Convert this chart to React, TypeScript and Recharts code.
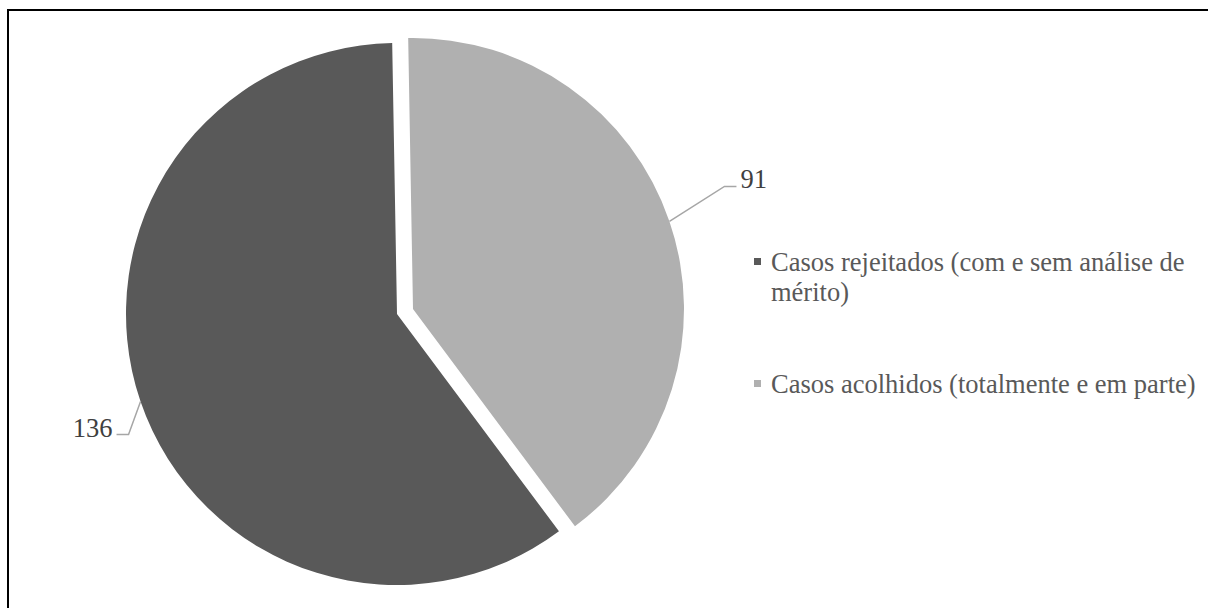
import React from 'react';
import { PieChart, Pie, Cell, Legend } from 'recharts';

const categories = [
  'Casos rejeitados (com e sem análise de mérito)',
  'Casos acolhidos (totalmente e em parte)',
];
const values = [136, 91];
const colors = ['#595959', '#b0b0b0'];

const data = categories.map((name, i) => ({ name, value: values[i] }));

const FONT = '"Liberation Serif", "Times New Roman", serif';
const RAD = Math.PI / 180;
const START = -53.3;
const END = START - 360;

const makeLabel = (visibleIndex: number) => (props: any) => {
  const { cx, cy, midAngle, outerRadius, index, value } = props;
  if (index !== visibleIndex) return null;
  const ex = cx + outerRadius * Math.cos(-midAngle * RAD);
  const ey = cy + outerRadius * Math.sin(-midAngle * RAD);
  const right = ex > cx;
  const mx = right ? ex + 55 : ex - 12;
  const my = right ? ey - 35 : ey + 33;
  const hx = right ? mx + 12 : mx - 12;
  return (
    <g key={`lbl-${index}`}>
      <polyline
        points={`${ex},${ey} ${mx},${my} ${hx},${my}`}
        fill="none"
        stroke="#a6a6a6"
        strokeWidth={1.5}
      />
      <text
        x={right ? hx + 4 : hx - 4}
        y={my + 2}
        textAnchor={right ? 'start' : 'end'}
        fontFamily={FONT}
        fontSize={26.5}
        fill="#404040"
      >
        {value}
      </text>
    </g>
  );
};

const renderLegend = () => (
  <div style={{ fontFamily: FONT, fontSize: 26.5, color: '#595959', width: 460 }}>
    {data.map((d, i) => (
      <div
        key={i}
        style={{
          position: 'relative',
          paddingLeft: 17,
          width: 440,
          lineHeight: '29.5px',
          marginBottom: i === 0 ? 63 : 0,
        }}
      >
        <span
          style={{
            position: 'absolute',
            left: 0,
            top: 10,
            width: 7,
            height: 7,
            background: colors[i],
          }}
        />
        {d.name}
      </div>
    ))}
  </div>
);

export default function App() {
  return (
    <div
      style={{
        position: 'absolute',
        left: 0,
        top: 0,
        width: 1208,
        height: 608,
        background: '#fff',
        overflow: 'hidden',
      }}
    >
      <div
        style={{
          position: 'absolute',
          left: 7,
          top: 9,
          width: 1300,
          height: 700,
          border: '2px solid #000',
        }}
      />
      <div style={{ position: 'absolute', left: 0, top: 0 }}>
        <PieChart width={1208} height={608} margin={{ top: 0, right: 0, bottom: 0, left: 0 }}>
          <Pie
            data={data}
            dataKey="value"
            nameKey="name"
            cx={397}
            cy={314}
            outerRadius={271}
            startAngle={START}
            endAngle={END}
            stroke="none"
            isAnimationActive={false}
            label={makeLabel(0)}
            labelLine={false}
          >
            {data.map((d, i) => (
              <Cell key={i} fill={i === 0 ? colors[0] : 'transparent'} stroke="none" />
            ))}
          </Pie>
          <Pie
            data={data}
            dataKey="value"
            nameKey="name"
            cx={413}
            cy={309}
            outerRadius={271}
            startAngle={START}
            endAngle={END}
            stroke="none"
            isAnimationActive={false}
            label={makeLabel(1)}
            labelLine={false}
            legendType="none"
          >
            {data.map((d, i) => (
              <Cell key={i} fill={i === 1 ? colors[1] : 'transparent'} stroke="none" />
            ))}
          </Pie>
          <Legend
            content={renderLegend}
            wrapperStyle={{ position: 'absolute', left: 754, top: 248, width: 460 }}
          />
        </PieChart>
      </div>
    </div>
  );
}
